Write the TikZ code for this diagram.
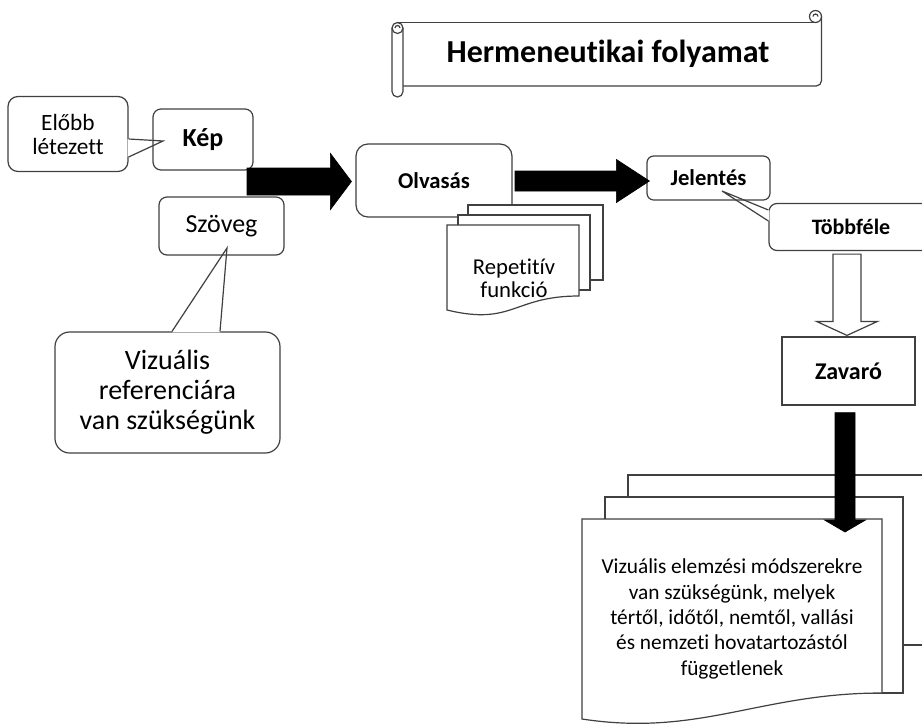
\documentclass[tikz,border=0pt]{standalone}
\usepackage{fontspec}
\setmainfont{Carlito}[Ligatures=NoCommon]
\usetikzlibrary{calc}

\begin{document}
\begin{tikzpicture}[x=0.75pt, y=-0.75pt, line width=0.9pt,
  every node/.style={inner sep=0pt, align=center},
  ink/.style={draw=black!75},
  rbox/.style={ink, rounded corners=6pt},
  note/.style={rbox, fill=white},
  paper/.style={ink, fill=white},
  blockarrow/.style={draw=black, fill=black, line width=0.5pt, line join=miter},
  hollowarrow/.style={ink, fill=white, line join=miter},
  btext/.style={font=\fontsize{#1}{#1}\selectfont\bfseries},
  ptext/.style={font=\fontsize{#1}{#1}\selectfont}]
\path[use as bounding box] (0,0) rectangle (922,726);
\clip (0,0) rectangle (922,726);
\fill[white] (0,0) rectangle (922,726);

% title scroll
\draw[ink] (397.5,22.5) -- (815.5,22.5);
\draw[ink, rounded corners=4pt] (821.5,16.5) -- (821.5,86) -- (403,86);
\draw[ink] (815.5,16.5) circle (6);
\draw[ink] (813,16.5) arc (180:360:2.5);
\draw[paper] (392,28) -- (392,91.5) arc (180:0:5.5) -- (403,28);
\draw[paper] (397.5,28) circle (5.5);
\draw[ink] (395,28) arc (180:360:2.5);
\node[btext=24] (title) at (608,54) {Hermeneutikai folyamat};

% left side
\node[note, minimum width=90pt, minimum height=56.25pt, rounded corners=7.5pt, font=\fontsize{17.5}{18}\selectfont] (elobb) at (68,134) {Előbb\\létezett};
\coordinate (keptip) at (163,141);
\fill[white] ($(elobb.east)+(-1,5)$) -- (keptip) -- ($(elobb.east)+(-1,23)$) -- cycle;
\draw[ink] ($(elobb.east)+(0,5)$) -- (keptip) -- ($(elobb.east)+(0,23)$);
\node[rbox, minimum width=75pt, minimum height=45.75pt, btext=19.5] (kep) at (203,139.5) {Kép};

\node[note, minimum width=168.75pt, minimum height=90.75pt, rounded corners=11pt, font=\fontsize{21}{22.5}\selectfont] (vizref) at (167.5,392.5) {Vizuális\\referenciára\\van szükségünk};
\coordinate (szovtip) at (227,248);
\fill[white] ($(vizref.north)+(4.5,1)$) -- (szovtip) -- ($(vizref.north)+(52.5,1)$) -- cycle;
\draw[ink] ($(vizref.north)+(4.5,0)$) -- (szovtip) -- ($(vizref.north)+(52.5,0)$);
\node[rbox, minimum width=93.75pt, minimum height=43.5pt, ptext=19.5] (szoveg) at (221.5,226) {Szöveg};

% reading
\node[rbox, minimum width=117pt, minimum height=54.75pt, rounded corners=9pt, btext=17] (olvasas) at (434,180.5) {Olvasás};
\coordinate (a1s) at (247,181.5);
\coordinate (a1e) at ($(olvasas.west)+(-4,1)$);
\filldraw[blockarrow] (a1s) -- ++(0,-13.5) -- ($(a1e)+(-21,-13.5)$) -- ($(a1e)+(-21,-28)$) -- (a1e)
  -- ($(a1e)+(-21,28)$) -- ($(a1e)+(-21,13.5)$) -- ($(a1s)+(0,13.5)$) -- cycle;

\draw[paper] (468,205) rectangle (603,280);
\draw[paper] (458,215) rectangle (590,290);
\draw[paper] (447,225) -- (579,225) -- (579,296) .. controls (513,296) and (513,326) .. (447,310) -- cycle;
\node[font=\fontsize{17}{17.5}\selectfont] (repet) at (514,278) {Repetitív\\funkció};

% meaning
\node[note, minimum width=123pt, minimum height=35.25pt, btext=16.5] (tobbfele) at (851,227) {Többféle};
\coordinate (jeltip) at (722,191);
\fill[white] ($(tobbfele.west)+(1,-17)$) -- (jeltip) -- ($(tobbfele.west)+(1,-6)$) -- cycle;
\draw[ink] ($(tobbfele.west)+(0,-17)$) -- (jeltip) -- ($(tobbfele.west)+(0,-6)$);
\node[rbox, minimum width=92.25pt, minimum height=33pt, rounded corners=5pt, btext=17] (jelentes) at (708.5,178) {Jelentés};
\coordinate (a2s) at (515,181);
\coordinate (a2e) at ($(jelentes.west)+(3,3)$);
\filldraw[blockarrow] (a2s) -- ++(0,-10) -- ($(a2e)+(-33,-10)$) -- ($(a2e)+(-33,-21.5)$) -- (a2e)
  -- ($(a2e)+(-33,21.5)$) -- ($(a2e)+(-33,10)$) -- ($(a2s)+(0,10)$) -- cycle;

\node[ink, draw, minimum width=99.75pt, minimum height=51pt, btext=18] (zavaro) at (848.5,371) {Zavaró};
\coordinate (a4s) at ($(tobbfele.south)+(-4,3)$);
\coordinate (a4e) at ($(zavaro.north)+(-1.5,-1)$);
\draw[hollowarrow] ($(a4s)+(-14,0)$) -- ($(a4e)+(-14,-14)$) -- ($(a4e)+(-30.5,-14)$) -- (a4e)
  -- ($(a4e)+(30.5,-14)$) -- ($(a4e)+(14,-14)$) -- ($(a4s)+(14,0)$) -- cycle;

% methods
\draw[paper] (628,475) rectangle (940,645);
\draw[paper] (605,497) rectangle (903,693);
\draw[paper] (582,519) -- (882,519) -- (882,693) .. controls (760,693) and (700,737) .. (582,719) -- cycle;
\node[font=\fontsize{16}{19}\selectfont] (elemzes) at (732,619) {Vizuális elemzési módszerekre\\van szükségünk, melyek\\tértől, időtől, nemtől, vallási\\és nemzeti hovatartozástól\\függetlenek};

\coordinate (a3s) at ($(zavaro.south)+(-3.5,7)$);
\coordinate (a3e) at (845,532);
\filldraw[blockarrow] (a3s) -- ++(-10,0) -- ($(a3e)+(-10,-12)$) -- ($(a3e)+(-20.5,-12)$) -- (a3e)
  -- ($(a3e)+(20.5,-12)$) -- ($(a3e)+(10,-12)$) -- ($(a3s)+(10,0)$) -- cycle;
\end{tikzpicture}
\end{document}
